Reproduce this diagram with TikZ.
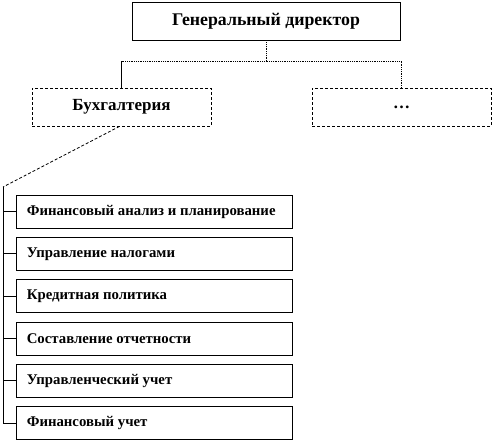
\documentclass[tikz,border=0pt]{standalone}
\usepackage{fontspec}
\setmainfont{Liberation Serif}
\usetikzlibrary{positioning}
\begin{document}
\begin{tikzpicture}[
    x=1pt, y=-1pt,
    box/.style={draw, thick, fill=white, minimum height=38pt, inner sep=0pt},
    headbox/.style={box, minimum width=268pt, font=\bfseries\fontsize{17.8}{19}\selectfont},
    deptbox/.style={box, densely dashed, minimum width=179pt, font=\bfseries\fontsize{17}{19}\selectfont},
    taskbox/.style={draw, thick, minimum width=276pt, minimum height=33pt, inner sep=0pt},
    tasklabel/.style={anchor=west, inner sep=0pt, font=\bfseries\fontsize{14.8}{16}\selectfont},
    link/.style={thick},
    dotlink/.style={thick, densely dotted}
  ]
    \useasboundingbox (0,0) rectangle (492,440);
    \node[headbox] (gendir) at (266,21) {Генеральный директор};
    \node[deptbox] (buh) at (121.5,107) {Бухгалтерия};
    \node[deptbox] (etc) at (401.5,107) {\dots};
    \coordinate (bus) at (266,61);
    \coordinate (trunk) at (3,187);
    \draw[dotlink] (gendir.south) -- (bus);
    \draw[link] (buh.north) -- (buh.north |- bus);
    \draw[dotlink] (buh.north |- bus) -- (etc.north |- bus) -- (etc.north);
    \draw[link, densely dashed] ([xshift=-2pt]buh.south) -- (trunk);
    \foreach \i/\txt in {1/Финансовый анализ и планирование,
                         2/Управление налогами,
                         3/Кредитная политика,
                         4/Составление отчетности,
                         5/Управленческий учет,
                         6/Финансовый учет} {
      \node[taskbox] (task\i) at (154,{211.5+42.3*(\i-1)}) {};
      \node[tasklabel] (label\i) at ([xshift=11pt]task\i.west) {\txt};
      \draw[link] (task\i.west -| trunk) -- (task\i.west);
    }
    \draw[link] (trunk) -- (trunk |- task6.west);
  \end{tikzpicture}
\end{document}
